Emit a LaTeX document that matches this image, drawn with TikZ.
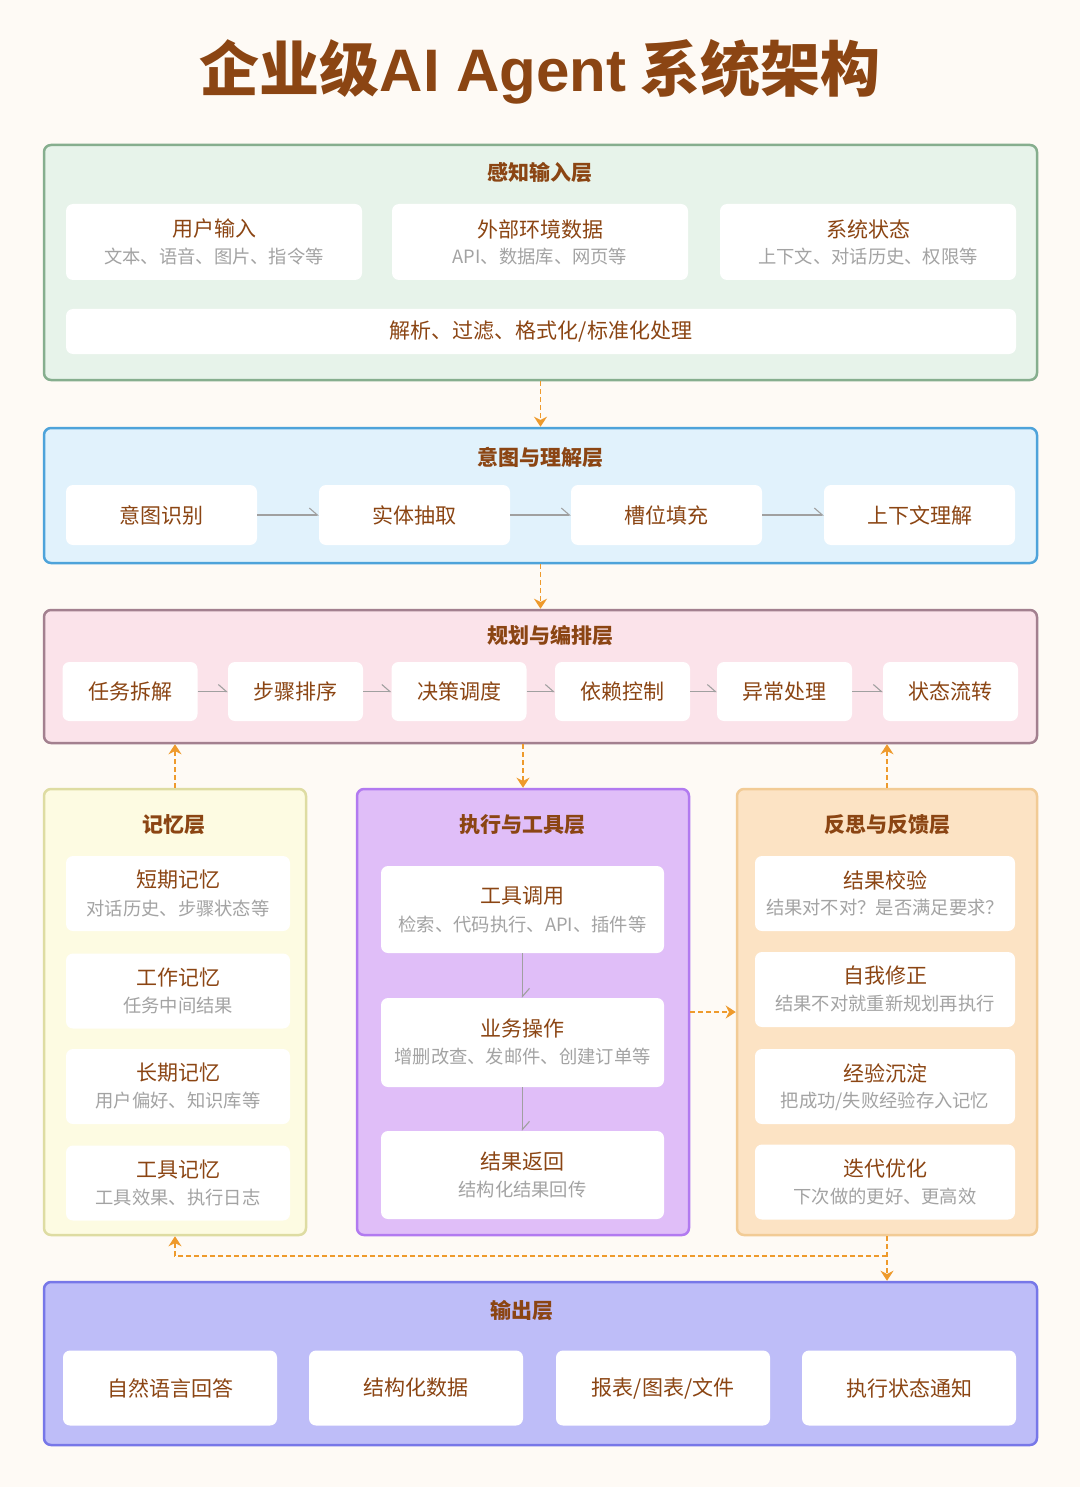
\documentclass[tikz,border=0pt]{standalone}
\usepackage{fontspec}
\setmainfont{Noto Sans CJK SC}
\newfontfamily\latinfont{Liberation Sans}
\usepackage{xcolor}
\usetikzlibrary{arrows.meta}

\definecolor{bgcream}{HTML}{FEFAF5}
\definecolor{brownc}{HTML}{8B4513}
\definecolor{subgray}{HTML}{A3A3A3}
\definecolor{flowgray}{HTML}{A0A0A0}
\definecolor{feedorange}{HTML}{EE9A2C}
\definecolor{percfill}{HTML}{E7F3EA}
\definecolor{percline}{HTML}{86AE8E}
\definecolor{intentfill}{HTML}{E1F2FC}
\definecolor{intentline}{HTML}{4EA3DA}
\definecolor{planfill}{HTML}{FBE3EA}
\definecolor{planline}{HTML}{A3808F}
\definecolor{memfill}{HTML}{FDFBE2}
\definecolor{memline}{HTML}{DEDCA2}
\definecolor{execfill}{HTML}{E0BEF8}
\definecolor{execline}{HTML}{B27AF0}
\definecolor{reflfill}{HTML}{FCE3C4}
\definecolor{reflline}{HTML}{F2CB95}
\definecolor{outfill}{HTML}{BEBDF8}
\definecolor{outline}{HTML}{7777E8}

\tikzset{
  layer/.style={draw, line width=2.5pt, rounded corners=7pt, inner sep=0pt},
  card/.style={fill=white, rounded corners=7pt, inner sep=0pt},
  layertitle/.style={font=\fontsize{21}{21}\selectfont\bfseries, text=brownc},
  cardtext/.style={font=\fontsize{21}{21}\selectfont, text=brownc},
  subtext/.style={font=\fontsize{18.3}{18.3}\selectfont, text=subgray},
  flow/.style={draw=flowgray, line width=1.1pt, -{Straight Barb[harpoon, length=8pt, width=14pt]}},
  feed/.style={draw=feedorange, line width=1.4pt, dash pattern=on 5pt off 3pt, -{Stealth[length=10pt, width=13pt]}},
}

\begin{document}
\begin{tikzpicture}[x=1pt, y=-1pt]
            % Hintergrund
            \useasboundingbox (0,0) rectangle (1080,1487);
            \fill[bgcream] (0,0) rectangle (1080,1487);

            \node[font=\fontsize{60}{60}\selectfont\bfseries, text=brownc] (title) at (540,72) {企业级{\latinfont AI Agent} 系统架构};

            % Perception layer
            \node[layer, fill=percfill, draw=percline, minimum width=993pt, minimum height=235pt] (perc) at (540.5,262.5) {};
            \node[layertitle] (perct) at (540,173) {感知输入层};

            \node[card, minimum width=296pt, minimum height=76pt] (u1) at (214,242) {};
            \node[cardtext] (u1t) at ([yshift=13pt]u1.center) {用户输入};
            \node[subtext] (u1s) at ([yshift=-15pt]u1.center) {文本、语音、图片、指令等};

            \node[card, minimum width=296pt, minimum height=76pt] (u2) at (540,242) {};
            \node[cardtext] (u2t) at ([yshift=13pt]u2.center) {外部环境数据};
            \node[subtext] (u2s) at ([yshift=-15pt]u2.center) {API、数据库、网页等};

            \node[card, minimum width=296pt, minimum height=76pt] (u3) at (868,242) {};
            \node[cardtext] (u3t) at ([yshift=13pt]u3.center) {系统状态};
            \node[subtext] (u3s) at ([yshift=-15pt]u3.center) {上下文、对话历史、权限等};

            \node[card, cardtext, minimum width=950pt, minimum height=45pt] (u4) at (541,331.5) {解析、过滤、格式化/标准化处理};

            % Intent layer
            \node[layer, fill=intentfill, draw=intentline, minimum width=993pt, minimum height=135pt] (intent) at (540.5,495.5) {};
            \node[layertitle] (intentt) at (540,457) {意图与理解层};

            \node[card, cardtext, minimum width=191pt, minimum height=60pt] (i1) at (161.5,515) {意图识别};
            \node[card, cardtext, minimum width=191pt, minimum height=60pt] (i2) at (414.5,515) {实体抽取};
            \node[card, cardtext, minimum width=191pt, minimum height=60pt] (i3) at (666.5,515) {槽位填充};
            \node[card, cardtext, minimum width=191pt, minimum height=60pt] (i4) at (919.5,515) {上下文理解};

            \draw[flow] (i1) -- (i2);
            \draw[flow] (i2) -- (i3);
            \draw[flow] (i3) -- (i4);

            % Planning layer
            \node[layer, fill=planfill, draw=planline, minimum width=993pt, minimum height=133pt] (plan) at (540.5,676.5) {};
            \node[layertitle] (plant) at (550,636) {规划与编排层};

            \node[card, cardtext, minimum width=135pt, minimum height=59pt] (p1) at (130,691.5) {任务拆解};
            \node[card, cardtext, minimum width=135pt, minimum height=59pt] (p2) at (295.5,691.5) {步骤排序};
            \node[card, cardtext, minimum width=135pt, minimum height=59pt] (p3) at (459,691.5) {决策调度};
            \node[card, cardtext, minimum width=135pt, minimum height=59pt] (p4) at (622.5,691.5) {依赖控制};
            \node[card, cardtext, minimum width=135pt, minimum height=59pt] (p5) at (784.5,691.5) {异常处理};
            \node[card, cardtext, minimum width=135pt, minimum height=59pt] (p6) at (950.5,691.5) {状态流转};

            \draw[flow] (p1) -- (p2);
            \draw[flow] (p2) -- (p3);
            \draw[flow] (p3) -- (p4);
            \draw[flow] (p4) -- (p5);
            \draw[flow] (p5) -- (p6);

            % Memory layer
            \node[layer, fill=memfill, draw=memline, minimum width=262pt, minimum height=446pt] (mem) at (175,1012) {};
            \node[layertitle] (memt) at (174,825) {记忆层};

            \node[card, minimum width=224pt, minimum height=75pt] (m1) at (178,893.5) {};
            \node[cardtext] (m1t) at ([yshift=13.5pt]m1.center) {短期记忆};
            \node[subtext] (m1s) at ([yshift=-14.5pt]m1.center) {对话历史、步骤状态等};

            \node[card, minimum width=224pt, minimum height=75pt] (m2) at (178,991) {};
            \node[cardtext] (m2t) at ([yshift=13.5pt]m2.center) {工作记忆};
            \node[subtext] (m2s) at ([yshift=-14.5pt]m2.center) {任务中间结果};

            \node[card, minimum width=224pt, minimum height=75pt] (m3) at (178,1086.5) {};
            \node[cardtext] (m3t) at ([yshift=13.5pt]m3.center) {长期记忆};
            \node[subtext] (m3s) at ([yshift=-14.5pt]m3.center) {用户偏好、知识库等};

            \node[card, minimum width=224pt, minimum height=75pt] (m4) at (178,1183) {};
            \node[cardtext] (m4t) at ([yshift=13.5pt]m4.center) {工具记忆};
            \node[subtext] (m4s) at ([yshift=-14.5pt]m4.center) {工具效果、执行日志};

            % Execution layer
            \node[layer, fill=execfill, draw=execline, minimum width=332pt, minimum height=446pt] (exec) at (523,1012) {};
            \node[layertitle] (exect) at (522,825) {执行与工具层};

            \node[card, minimum width=283pt, minimum height=87pt] (e1) at (522.5,909.5) {};
            \node[cardtext] (e1t) at ([yshift=13.5pt]e1.center) {工具调用};
            \node[subtext] (e1s) at ([yshift=-14.5pt]e1.center) {检索、代码执行、API、插件等};

            \node[card, minimum width=283pt, minimum height=89pt] (e2) at (522.5,1042.5) {};
            \node[cardtext] (e2t) at ([yshift=13.5pt]e2.center) {业务操作};
            \node[subtext] (e2s) at ([yshift=-14.5pt]e2.center) {增删改查、发邮件、创建订单等};

            \node[card, minimum width=283pt, minimum height=88pt] (e3) at (522.5,1175) {};
            \node[cardtext] (e3t) at ([yshift=13.5pt]e3.center) {结果返回};
            \node[subtext] (e3s) at ([yshift=-14.5pt]e3.center) {结构化结果回传};

            \draw[flow] (e1) -- (e2);
            \draw[flow] (e2) -- (e3);

            % Reflection layer
            \node[layer, fill=reflfill, draw=reflline, minimum width=300pt, minimum height=446pt] (refl) at (887,1012) {};
            \node[layertitle] (reflt) at (887,825) {反思与反馈层};

            \node[card, minimum width=260pt, minimum height=75pt] (r1) at (885,893.5) {};
            \node[cardtext] (r1t) at ([yshift=13.5pt]r1.center) {结果校验};
            \node[subtext] (r1s) at ([yshift=-14.5pt]r1.center) {结果对不对？是否满足要求？};

            \node[card, minimum width=260pt, minimum height=75pt] (r2) at (885,989.5) {};
            \node[cardtext] (r2t) at ([yshift=13.5pt]r2.center) {自我修正};
            \node[subtext] (r2s) at ([yshift=-14.5pt]r2.center) {结果不对就重新规划再执行};

            \node[card, minimum width=260pt, minimum height=75pt] (r3) at (885,1086.5) {};
            \node[cardtext] (r3t) at ([yshift=13.5pt]r3.center) {经验沉淀};
            \node[subtext] (r3s) at ([yshift=-14.5pt]r3.center) {把成功/失败经验存入记忆};

            \node[card, minimum width=260pt, minimum height=75pt] (r4) at (885,1182) {};
            \node[cardtext] (r4t) at ([yshift=13.5pt]r4.center) {迭代优化};
            \node[subtext] (r4s) at ([yshift=-14.5pt]r4.center) {下次做的更好、更高效};

            % Output layer
            \node[layer, fill=outfill, draw=outline, minimum width=993pt, minimum height=163pt] (out) at (540.5,1363.5) {};
            \node[layertitle] (outt) at (522,1311) {输出层};

            \node[card, cardtext, minimum width=214pt, minimum height=75pt] (o1) at (170,1388) {自然语言回答};
            \node[card, cardtext, minimum width=214pt, minimum height=75pt] (o2) at (416,1388) {结构化数据};
            \node[card, cardtext, minimum width=214pt, minimum height=75pt] (o3) at (663,1388) {报表/图表/文件};
            \node[card, cardtext, minimum width=214pt, minimum height=75pt] (o4) at (909,1388) {执行状态通知};

            % Verbindungen zwischen den Schichten
            \draw[feed] (perc) -- (intent);
            \draw[feed] (intent) -- (plan);
            \draw[feed] (mem.north) -- (mem.north |- plan.south);
            \draw[feed] (plan.south -| exec.north) -- (exec.north);
            \draw[feed] (refl.north) -- (refl.north |- plan.south);
            \draw[feed] (exec) -- (refl);
            \draw[feed] (refl.south) -- (refl.south |- out.north);
            \coordinate (fork) at (887,1256);
            \draw[feed] (fork) -| (mem.south);
        \end{tikzpicture}
\end{document}
